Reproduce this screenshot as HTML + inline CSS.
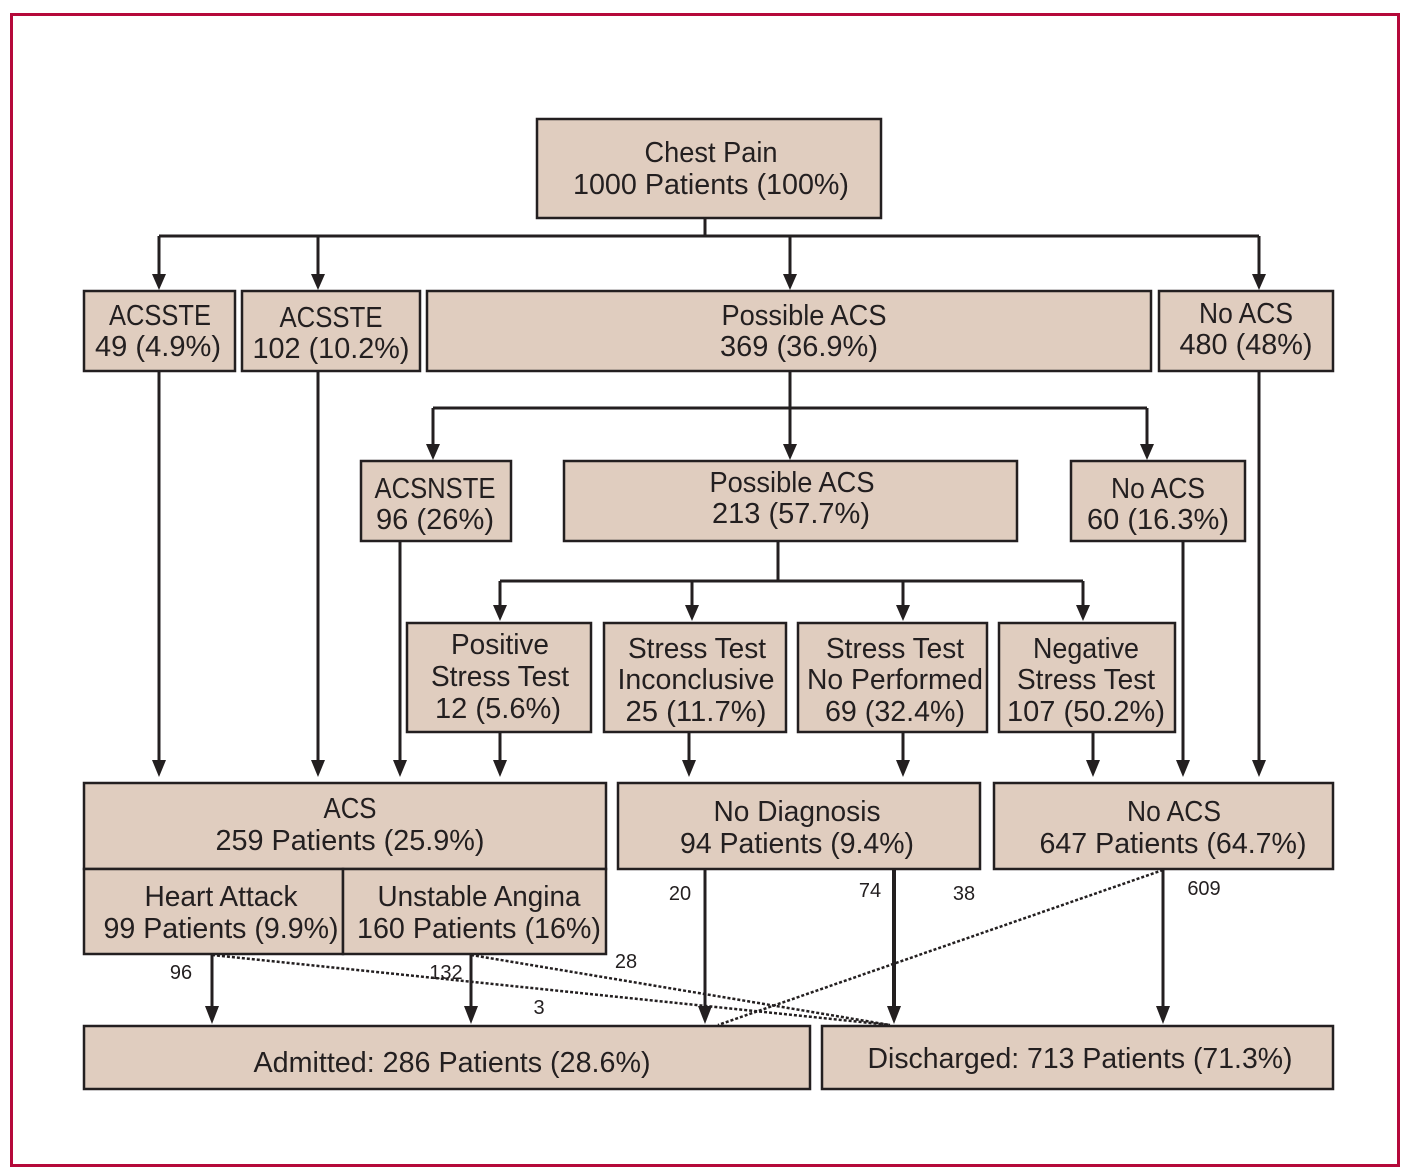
<!DOCTYPE html>
<html><head><meta charset="utf-8">
<style>
html,body{margin:0;padding:0;background:#fff;}
svg{display:block;}
text{font-family:"Liberation Sans Narrow","Liberation Sans",sans-serif;fill:#231f20;}
.t{font-size:29px;text-anchor:middle;}
.s{font-size:20px;text-anchor:middle;}
rect.b{fill:#e0cdbf;stroke:#231f20;stroke-width:2.5;}
.l{stroke:#231f20;stroke-width:3;fill:none;}
.d{stroke:#231f20;stroke-width:2.5;fill:none;stroke-dasharray:3,2;}
</style></head><body>
<svg width="1407" height="1173" viewBox="0 0 1407 1173" xmlns="http://www.w3.org/2000/svg">
<defs>
<marker id="a" markerWidth="14" markerHeight="16" refX="7" refY="16" orient="auto-start-reverse" markerUnits="userSpaceOnUse" viewBox="0 0 14 16">
</marker>
</defs>
<rect x="11.5" y="14.5" width="1387" height="1151" fill="none" stroke="#b5093a" stroke-width="3"/>

<!-- connectors -->
<g class="l">
<path d="M705 218V236M159 236H1259M159 236V276M318 236V276M790 236V276M1259 236V276"/>
<path d="M790 371V408M433 408H1147M433 408V446M790 408V446M1147 408V446"/>
<path d="M778 541V581M500 581H1083M500 581V607M692 581V607M903 581V607M1083 581V607"/>
<path d="M159 371V762M318 371V762M400 541V762M500 732V762M689 732V762M903 732V762M1093 732V762M1183 541V762M1259 371V762"/>
<path d="M212 955V1008M471 955V1008M705 869V1008M1163 869V1008"/>
<path d="M894 869V1008" stroke-width="4"/>
</g>
<g fill="#231f20">
<!-- arrowheads: tip at y -->
<path d="M152 274L166 274L159 290Z"/><path d="M311 274L325 274L318 290Z"/><path d="M783 274L797 274L790 290Z"/><path d="M1252 274L1266 274L1259 290Z"/>
<path d="M426 444L440 444L433 460Z"/><path d="M783 444L797 444L790 460Z"/><path d="M1140 444L1154 444L1147 460Z"/>
<path d="M493 605L507 605L500 621Z"/><path d="M685 605L699 605L692 621Z"/><path d="M896 605L910 605L903 621Z"/><path d="M1076 605L1090 605L1083 621Z"/>
<path d="M152 760L166 760L159 777Z"/><path d="M311 760L325 760L318 777Z"/><path d="M393 760L407 760L400 777Z"/><path d="M493 760L507 760L500 777Z"/><path d="M682 760L696 760L689 777Z"/><path d="M896 760L910 760L903 777Z"/><path d="M1086 760L1100 760L1093 777Z"/><path d="M1176 760L1190 760L1183 777Z"/><path d="M1252 760L1266 760L1259 777Z"/>
<path d="M205 1006L219 1006L212 1024Z"/><path d="M464 1006L478 1006L471 1024Z"/><path d="M698 1006L712 1006L705 1024Z"/><path d="M887 1006L901 1006L894 1024Z"/><path d="M1156 1006L1170 1006L1163 1024Z"/>
</g>
<g class="d">
<path d="M212 955L890 1025"/>
<path d="M471 955L890 1025"/>
<path d="M1163 870L718 1025"/>
</g>

<!-- boxes -->
<rect class="b" x="537" y="119" width="344" height="99"/>
<rect class="b" x="84" y="291" width="151" height="80"/>
<rect class="b" x="242" y="291" width="178" height="80"/>
<rect class="b" x="427" y="291" width="724" height="80"/>
<rect class="b" x="1159" y="291" width="174" height="80"/>
<rect class="b" x="361" y="461" width="150" height="80"/>
<rect class="b" x="564" y="461" width="453" height="80"/>
<rect class="b" x="1071" y="461" width="174" height="80"/>
<rect class="b" x="407" y="623" width="184" height="109"/>
<rect class="b" x="604" y="623" width="182" height="109"/>
<rect class="b" x="798" y="623" width="189" height="109"/>
<rect class="b" x="999" y="623" width="176" height="109"/>
<rect class="b" x="84" y="783" width="522" height="86"/>
<rect class="b" x="84" y="869" width="259" height="85"/>
<rect class="b" x="343" y="869" width="263" height="85"/>
<rect class="b" x="618" y="783" width="362" height="86"/>
<rect class="b" x="994" y="783" width="339" height="86"/>
<rect class="b" x="84" y="1026" width="726" height="63"/>
<rect class="b" x="822" y="1026" width="511" height="63"/>

<!-- labels -->
<g class="t">
<text x="711" y="162" textLength="133" lengthAdjust="spacingAndGlyphs">Chest Pain</text>
<text x="711" y="194" textLength="276" lengthAdjust="spacingAndGlyphs">1000 Patients (100%)</text>
<text x="160" y="325" textLength="102" lengthAdjust="spacingAndGlyphs">ACSSTE</text>
<text x="158" y="356" textLength="126" lengthAdjust="spacingAndGlyphs">49 (4.9%)</text>
<text x="331" y="327" textLength="103" lengthAdjust="spacingAndGlyphs">ACSSTE</text>
<text x="331" y="358" textLength="157" lengthAdjust="spacingAndGlyphs">102 (10.2%)</text>
<text x="804" y="325" textLength="165" lengthAdjust="spacingAndGlyphs">Possible ACS</text>
<text x="799" y="356" textLength="158" lengthAdjust="spacingAndGlyphs">369 (36.9%)</text>
<text x="1246" y="323" textLength="94" lengthAdjust="spacingAndGlyphs">No ACS</text>
<text x="1246" y="354" textLength="133" lengthAdjust="spacingAndGlyphs">480 (48%)</text>
<text x="435" y="498" textLength="121" lengthAdjust="spacingAndGlyphs">ACSNSTE</text>
<text x="435" y="529" textLength="118" lengthAdjust="spacingAndGlyphs">96 (26%)</text>
<text x="792" y="492" textLength="165" lengthAdjust="spacingAndGlyphs">Possible ACS</text>
<text x="791" y="523" textLength="158" lengthAdjust="spacingAndGlyphs">213 (57.7%)</text>
<text x="1158" y="498" textLength="94" lengthAdjust="spacingAndGlyphs">No ACS</text>
<text x="1158" y="529" textLength="142" lengthAdjust="spacingAndGlyphs">60 (16.3%)</text>
<text x="500" y="654" textLength="98" lengthAdjust="spacingAndGlyphs">Positive</text>
<text x="500" y="686" textLength="138" lengthAdjust="spacingAndGlyphs">Stress Test</text>
<text x="498" y="718" textLength="126" lengthAdjust="spacingAndGlyphs">12 (5.6%)</text>
<text x="697" y="658" textLength="138" lengthAdjust="spacingAndGlyphs">Stress Test</text>
<text x="696" y="689" textLength="157" lengthAdjust="spacingAndGlyphs">Inconclusive</text>
<text x="696" y="721" textLength="141" lengthAdjust="spacingAndGlyphs">25 (11.7%)</text>
<text x="895" y="658" textLength="138" lengthAdjust="spacingAndGlyphs">Stress Test</text>
<text x="895" y="689" textLength="176" lengthAdjust="spacingAndGlyphs">No Performed</text>
<text x="895" y="721" textLength="140" lengthAdjust="spacingAndGlyphs">69 (32.4%)</text>
<text x="1086" y="658" textLength="106" lengthAdjust="spacingAndGlyphs">Negative</text>
<text x="1086" y="689" textLength="138" lengthAdjust="spacingAndGlyphs">Stress Test</text>
<text x="1086" y="721" textLength="158" lengthAdjust="spacingAndGlyphs">107 (50.2%)</text>
<text x="350" y="818" textLength="53" lengthAdjust="spacingAndGlyphs">ACS</text>
<text x="350" y="850" textLength="269" lengthAdjust="spacingAndGlyphs">259 Patients (25.9%)</text>
<text x="797" y="821" textLength="167" lengthAdjust="spacingAndGlyphs">No Diagnosis</text>
<text x="797" y="853" textLength="234" lengthAdjust="spacingAndGlyphs">94 Patients (9.4%)</text>
<text x="1174" y="821" textLength="94" lengthAdjust="spacingAndGlyphs">No ACS</text>
<text x="1173" y="853" textLength="267" lengthAdjust="spacingAndGlyphs">647 Patients (64.7%)</text>
<text x="221" y="906" textLength="153" lengthAdjust="spacingAndGlyphs">Heart Attack</text>
<text x="221" y="938" textLength="235" lengthAdjust="spacingAndGlyphs">99 Patients (9.9%)</text>
<text x="479" y="906" textLength="203" lengthAdjust="spacingAndGlyphs">Unstable Angina</text>
<text x="479" y="938" textLength="244" lengthAdjust="spacingAndGlyphs">160 Patients (16%)</text>
<text x="452" y="1072" textLength="397" lengthAdjust="spacingAndGlyphs">Admitted: 286 Patients (28.6%)</text>
<text x="1080" y="1068" textLength="425" lengthAdjust="spacingAndGlyphs">Discharged: 713 Patients (71.3%)</text>
</g>
<g class="s">
<text x="181" y="979">96</text>
<text x="446" y="979">132</text>
<text x="539" y="1014">3</text>
<text x="626" y="968">28</text>
<text x="680" y="900">20</text>
<text x="870" y="897">74</text>
<text x="964" y="900">38</text>
<text x="1204" y="895">609</text>
</g>
</svg>
</body></html>
